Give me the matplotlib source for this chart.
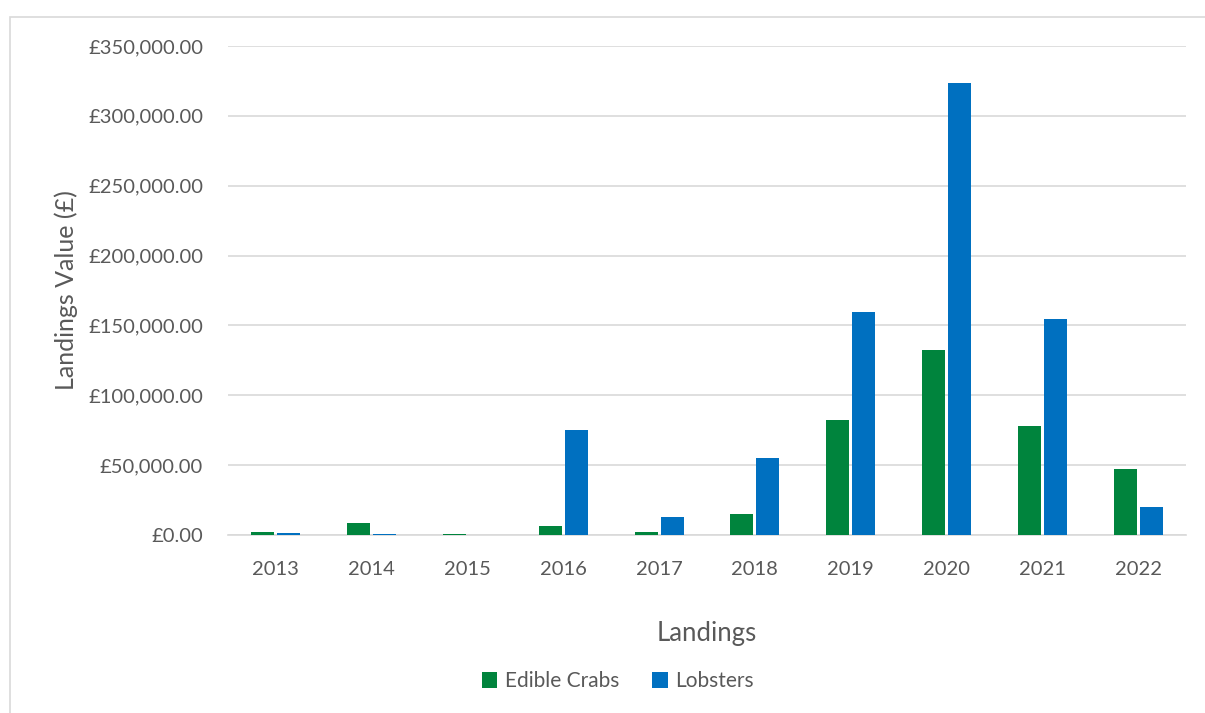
import matplotlib
matplotlib.use("Agg")
import matplotlib.pyplot as plt
from matplotlib.patches import Rectangle
from matplotlib.ticker import FuncFormatter
import numpy as np

years = ["2013", "2014", "2015", "2016", "2017", "2018", "2019", "2020", "2021", "2022"]
edible_crabs = [2000, 8500, 1000, 6500, 2000, 15000, 82300, 132400, 78000, 47200]
lobsters = [1500, 700, 0, 75000, 12900, 55100, 159600, 323500, 154600, 20000]
yticks = [0, 50000, 100000, 150000, 200000, 250000, 300000, 350000]

W, H = 1205, 713
fig = plt.figure(figsize=(W/100, H/100), dpi=100)
plt.rcParams['font.family'] = ['Lato', 'DejaVu Sans']
txt = '#595959'

fig.patches.append(Rectangle((10/W, -0.01), 1.2, (H-17)/H + 0.01, transform=fig.transFigure,
                             fill=False, edgecolor='#d9d9d9', linewidth=1.2))

ax = fig.add_axes([228/W, 1-535/H, (1186-228)/W, (535-46)/H])
x = np.arange(len(years))
bw = 0.24
ax.bar(x - bw/2 - 0.015, edible_crabs, bw, color='#00843d', label='Edible Crabs', zorder=3)
ax.bar(x + bw/2 + 0.015, lobsters, bw, color='#0070c0', label='Lobsters', zorder=3)

ax.set_xlim(-0.5, len(years) - 0.5)
ax.set_ylim(0, 350000)
ax.set_yticks(yticks)
ax.yaxis.set_major_formatter(FuncFormatter(lambda v, p: f"£{v:,.2f}"))
ax.set_xticks(x)
ax.set_xticklabels(years)
ax.grid(axis='y', color='#d9d9d9', linewidth=1.2, zorder=0)
for s in ['top', 'right', 'left']:
    ax.spines[s].set_visible(False)
ax.spines['bottom'].set_color('#d9d9d9')
ax.spines['bottom'].set_linewidth(1.2)
ax.tick_params(axis='both', length=0, colors=txt)
ax.tick_params(axis='x', pad=19, labelsize=14.5)
ax.tick_params(axis='y', pad=18, labelsize=14.5)
ax.set_ylabel("Landings Value (£)", fontsize=18, color=txt, labelpad=7)
ax.set_xlabel("Landings", fontsize=18.5, color=txt, labelpad=31)

leg = ax.legend(loc='center', bbox_to_anchor=(0.407, -0.299), ncol=2, frameon=False,
                fontsize=15, handlelength=0.75, handleheight=0.75, handletextpad=0.35,
                columnspacing=1.6, labelcolor=txt)

fig.savefig("out.png", dpi=100)
